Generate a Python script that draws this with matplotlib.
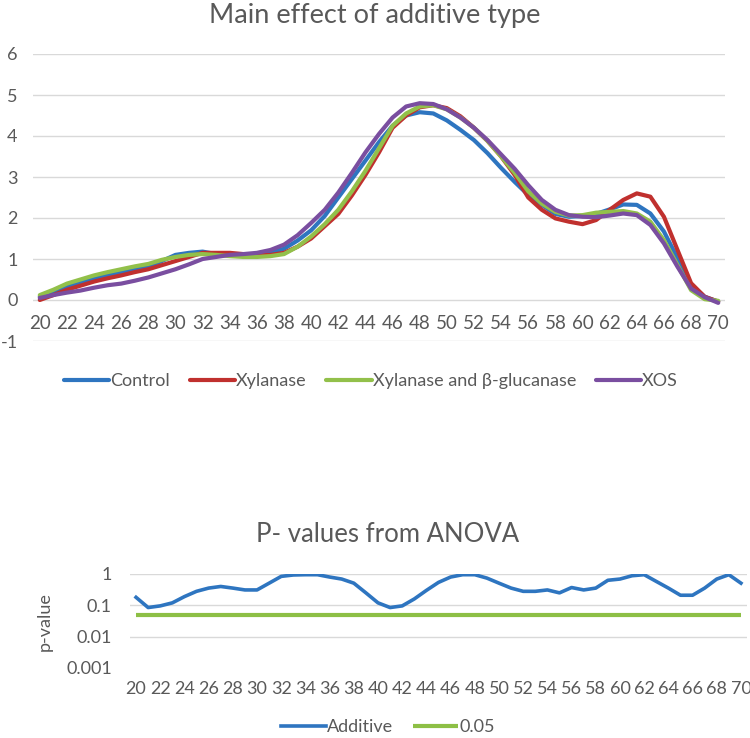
import matplotlib
matplotlib.use("Agg")
import matplotlib.pyplot as plt
from matplotlib.ticker import FixedLocator, NullLocator

plt.rcParams['font.family'] = ['Lato', 'DejaVu Sans']
plt.rcParams['axes.unicode_minus'] = False

categories = list(range(20, 71))
control = [0.08, 0.2, 0.32, 0.43, 0.52, 0.6, 0.68, 0.75, 0.82, 0.95,
           1.1, 1.15, 1.18, 1.12, 1.1, 1.08, 1.1, 1.15, 1.25, 1.45,
           1.7, 2.05, 2.5, 2.95, 3.4, 3.85, 4.25, 4.5, 4.58, 4.55,
           4.38, 4.15, 3.9, 3.58, 3.22, 2.88, 2.56, 2.32, 2.1, 2.03,
           2.05, 2.1, 2.21, 2.33, 2.32, 2.11, 1.67, 1.02, 0.37, 0.08, -0.04]
xylanase = [0.0, 0.12, 0.25, 0.35, 0.45, 0.53, 0.6, 0.68, 0.75, 0.85,
            0.95, 1.05, 1.15, 1.15, 1.15, 1.12, 1.1, 1.1, 1.15, 1.3,
            1.5, 1.8, 2.1, 2.55, 3.05, 3.6, 4.2, 4.5, 4.7, 4.75,
            4.68, 4.48, 4.2, 3.88, 3.5, 3.05, 2.5, 2.2, 1.99, 1.91,
            1.85, 1.95, 2.2, 2.44, 2.6, 2.52, 2.03, 1.22, 0.41, 0.08, -0.04]
xyl_glucanase = [0.12, 0.25, 0.4, 0.5, 0.6, 0.68, 0.75, 0.82, 0.88, 0.98,
                 1.05, 1.1, 1.12, 1.1, 1.07, 1.05, 1.05, 1.07, 1.12, 1.3,
                 1.55, 1.85, 2.2, 2.65, 3.15, 3.7, 4.25, 4.55, 4.72, 4.75,
                 4.65, 4.45, 4.2, 3.88, 3.5, 3.1, 2.65, 2.35, 2.15, 2.06,
                 2.07, 2.13, 2.15, 2.17, 2.11, 1.91, 1.46, 0.85, 0.24, 0.02, -0.02]
xos = [0.05, 0.12, 0.18, 0.23, 0.3, 0.36, 0.4, 0.47, 0.55, 0.65,
       0.75, 0.87, 1.0, 1.05, 1.1, 1.12, 1.15, 1.22, 1.35, 1.58,
       1.88, 2.2, 2.62, 3.1, 3.6, 4.05, 4.45, 4.72, 4.8, 4.78,
       4.65, 4.45, 4.2, 3.9, 3.55, 3.2, 2.8, 2.44, 2.2, 2.07,
       2.03, 2.02, 2.06, 2.11, 2.07, 1.83, 1.38, 0.81, 0.28, 0.07, -0.07]
series_names = ["Control", "Xylanase", "Xylanase and \u03b2-glucanase", "XOS"]
series_colors = ["#2E75C0", "#C0302E", "#92C04A", "#7A4EA0"]

p_additive = [0.18, 0.085, 0.096, 0.12, 0.19, 0.28, 0.355, 0.40, 0.355, 0.31,
              0.31, 0.51, 0.84, 0.93, 0.95, 0.95, 0.80, 0.69, 0.51, 0.25,
              0.12, 0.085, 0.096, 0.16, 0.30, 0.54, 0.80, 0.95, 0.95, 0.74,
              0.51, 0.355, 0.28, 0.28, 0.31, 0.25, 0.37, 0.31, 0.355, 0.63,
              0.69, 0.88, 0.95, 0.58, 0.355, 0.21, 0.21, 0.355, 0.69, 0.95, 0.51]
threshold = 0.05
top_yticks = [-1, 0, 1, 2, 3, 4, 5, 6]
bottom_yticks = [0.001, 0.01, 0.1, 1]
bottom_ylabels = ["0.001", "0.01", "0.1", "1"]

W, H = 750, 738
fig = plt.figure(figsize=(W / 100, H / 100), dpi=100)

grid_c = "#D9D9D9"
text_c = "#595959"

# ---------------- Top chart ----------------
ax = fig.add_axes([33 / W, 1 - 341 / H, 692 / W, 287 / H])
for vals, name, col in zip([control, xylanase, xyl_glucanase, xos], series_names, series_colors):
    ax.plot(categories, vals, color=col, lw=3.0, label=name, solid_capstyle='round', solid_joinstyle='round')
ax.set_xlim(categories[0] - 0.5, categories[-1] + 0.5)
ax.set_ylim(-1, 6)
ax.yaxis.set_major_locator(FixedLocator(top_yticks))
ax.grid(axis='y', color=grid_c, lw=1.0)
ax.set_axisbelow(True)
for s in ax.spines.values():
    s.set_visible(False)
ax.spines['bottom'].set_position(('data', 0))
ax.set_xticks(categories[::2])
ax.set_xticklabels([str(c) for c in categories[::2]])
ax.tick_params(axis='x', length=0, pad=11, labelsize=13.5, colors=text_c)
ax.tick_params(axis='y', length=0, pad=11, labelsize=13, colors=text_c)
fig.text(375 / W, 1 - 16 / H, "Main effect of additive type", ha='center', va='center',
         fontsize=19.5, color=text_c)
fig.legend(*ax.get_legend_handles_labels(), loc='center', bbox_to_anchor=(371 / W, 1 - 381 / H),
           ncol=4, frameon=False, fontsize=13, handlelength=2.5, handletextpad=0.05,
           columnspacing=1.1, labelcolor=text_c)

# ---------------- Bottom chart ----------------
bx = fig.add_axes([130 / W, 1 - 668 / H, 617 / W, 94 / H])
bx.plot(categories, p_additive, color="#2E75C0", lw=2.6, label="Additive", solid_joinstyle='round')
bx.hlines(threshold, categories[0], categories[-1], color="#8DBF45", lw=3.0, label="0.05")
bx.set_yscale('log')
bx.set_ylim(0.001, 1)
bx.set_xlim(categories[0] - 0.5, categories[-1] + 0.5)
bx.yaxis.set_major_locator(FixedLocator(bottom_yticks))
bx.yaxis.set_minor_locator(NullLocator())
bx.set_yticklabels(bottom_ylabels)
bx.grid(axis='y', color=grid_c, lw=1.0)
bx.set_axisbelow(True)
bx.yaxis.get_major_ticks()[0].gridline.set_visible(False)
for s in bx.spines.values():
    s.set_visible(False)
bx.set_xticks(categories[::2])
bx.set_xticklabels([str(c) for c in categories[::2]])
bx.tick_params(axis='x', length=0, pad=9, labelsize=13, colors=text_c)
bx.tick_params(axis='y', length=0, pad=13, labelsize=13, colors=text_c)
fig.text(45 / W, 1 - 622 / H, "p-value", rotation=90, ha='center', va='center',
         fontsize=13, color=text_c)
fig.text(388 / W, 1 - 535 / H, "P- values from ANOVA", ha='center', va='center',
         fontsize=18.5, color=text_c)
fig.legend(*bx.get_legend_handles_labels(), loc='center', bbox_to_anchor=(388 / W, 1 - 727 / H),
           ncol=2, frameon=False, fontsize=13, handlelength=2.5, handletextpad=0.05,
           columnspacing=1.1, labelcolor=text_c)

fig.savefig("out.png", dpi=100)
